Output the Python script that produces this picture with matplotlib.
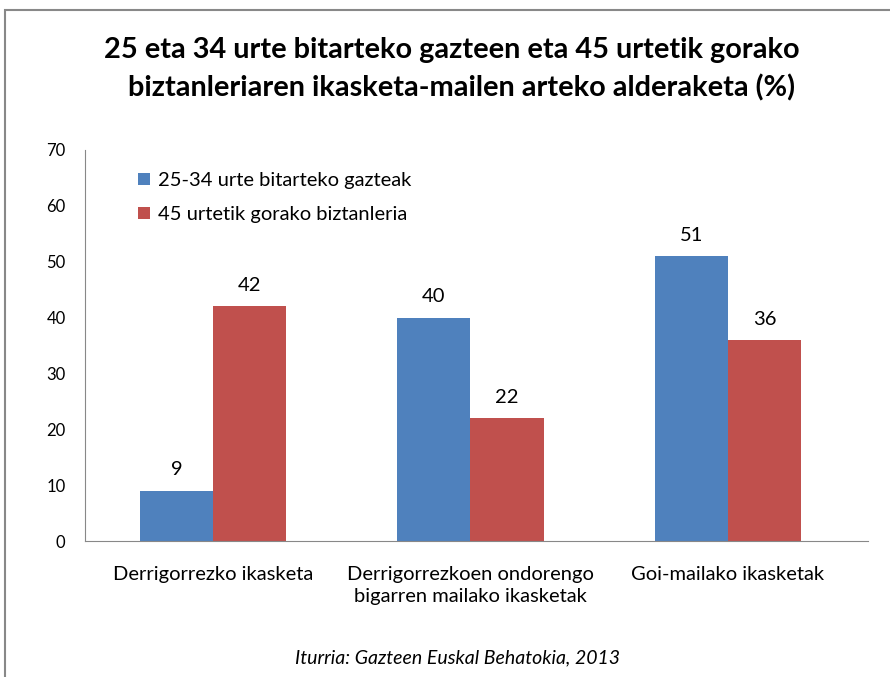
import matplotlib.pyplot as plt
import numpy as np
from matplotlib.patches import Rectangle

plt.rcParams['font.family'] = ['Lato', 'DejaVu Sans']

categories = ["Derrigorrezko ikasketa",
              "Derrigorrezkoen ondorengo\nbigarren mailako ikasketak",
              "Goi-mailako ikasketak"]
young = [9, 40, 51]
older = [42, 22, 36]
series_names = ["25-34 urte bitarteko gazteak", "45 urtetik gorako biztanleria"]
blue = "#4F81BD"
red = "#C0504D"

fig = plt.figure(figsize=(8.9, 6.77), dpi=100)
# outer grey frame (clipped at right and bottom like the original)
fig.patches.append(Rectangle((5 / 890, -0.05), 1.0, 1 - 10 / 677 + 0.05,
                             transform=fig.transFigure, fill=False,
                             edgecolor="#888888", linewidth=1.5))

ax = fig.add_axes([85 / 890, 1 - 541 / 677, 783 / 890, 391 / 677])
x = np.arange(len(categories))
w = 0.284
b1 = ax.bar(x - w / 2, young, w, color=blue, label=series_names[0])
b2 = ax.bar(x + w / 2, older, w, color=red, label=series_names[1])
for bars in (b1, b2):
    for r in bars:
        ax.text(r.get_x() + r.get_width() / 2, r.get_height() + 2.2,
                f"{r.get_height():.0f}", ha="center", va="bottom", fontsize=14.5)

ax.set_xlim(-0.497, 2.544)
ax.set_ylim(0, 70)
ax.set_yticks(range(0, 71, 10))
ax.tick_params(axis="y", length=0, labelsize=12, pad=14)
ax.tick_params(axis="x", length=0, labelsize=14.5, pad=18)
ax.set_xticks(x)
ax.set_xticklabels(categories, linespacing=1.35)
for s in ("top", "right"):
    ax.spines[s].set_visible(False)
for s in ("left", "bottom"):
    ax.spines[s].set_color("#888888")

ax.legend(loc="upper left", bbox_to_anchor=(0.045, 0.99), frameon=False,
          fontsize=14.5, handlelength=0.6, handleheight=0.6, handletextpad=0.4,
          labelspacing=0.85)

fig.text(452 / 890, 1 - 50 / 677,
         "25 eta 34 urte bitarteko gazteen eta 45 urtetik gorako",
         ha="center", va="center", fontsize=20.8, fontweight="bold")
fig.text(462 / 890, 1 - 88 / 677,
         "biztanleriaren ikasketa-mailen arteko alderaketa (%)",
         ha="center", va="center", fontsize=20.8, fontweight="bold")
fig.text(458 / 890, 1 - 658 / 677, "Iturria: Gazteen Euskal Behatokia, 2013",
         ha="center", va="center", fontsize=14, style="italic")

fig.savefig("out.png", dpi=100)
